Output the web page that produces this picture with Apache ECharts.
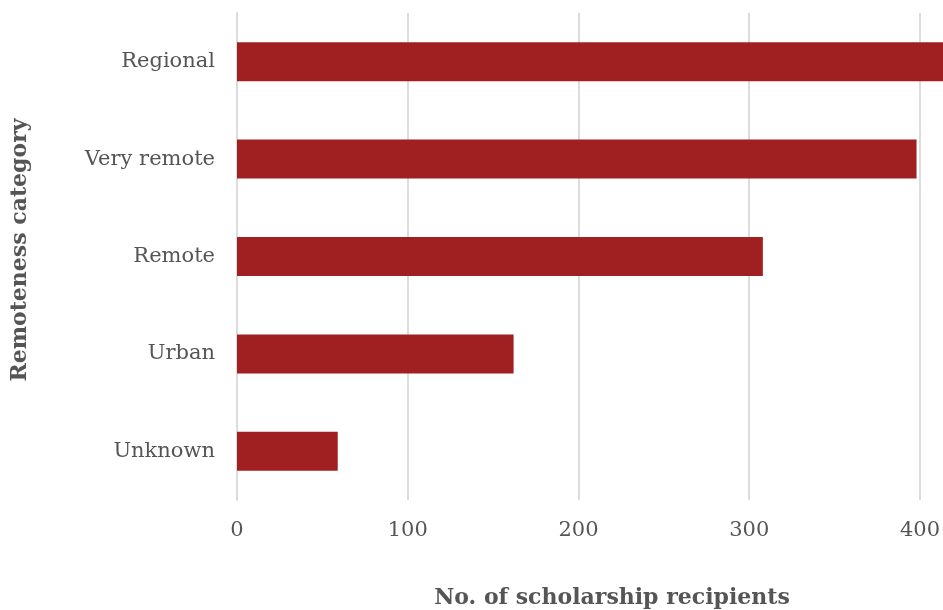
<!DOCTYPE html>
<html><head><meta charset="utf-8">
<script src="https://cdn.jsdelivr.net/npm/echarts@6/dist/echarts.min.js"></script>
<style>html,body{margin:0;padding:0;background:#fff}#c{width:943px;height:610px}</style>
</head><body><div id="c"></div>
<script>
var categories = ["Unknown", "Urban", "Remote", "Very remote", "Regional"];
var values = [59, 162, 308, 398, 430];
var xTicks = [0, 100, 200, 300, 400];
var FONT = "DejaVu Serif";
var chart = echarts.init(document.getElementById('c'));
chart.setOption({
  animation: false,
  grid: {left: 237, top: 13, right: 23, height: 487, containLabel: false},
  xAxis: {
    type: 'value', min: xTicks[0], max: xTicks[xTicks.length-1], interval: 100,
    axisLine: {show: false}, axisTick: {show: false},
    splitLine: {lineStyle: {color: '#dcdcdc', width: 2}},
    axisLabel: {color: '#555', fontFamily: FONT, fontSize: 21, margin: 20}
  },
  yAxis: {
    type: 'category', data: categories,
    axisLine: {show: true, lineStyle: {color: '#dcdcdc', width: 2}},
    axisTick: {show: false},
    axisLabel: {color: '#555', fontFamily: FONT, fontSize: 21, margin: 22}
  },
  series: [{
    type: 'bar', data: values, barWidth: '40%', clip: false,
    itemStyle: {color: '#a02022'}
  }],
  graphic: [
    {type: 'text', style: {text: 'No. of scholarship recipients', font: 'bold 22px "DejaVu Serif"', fill: '#555', align: 'center', verticalAlign: 'middle'}, x: 612, y: 598},
    {type: 'text', style: {text: 'Remoteness category', font: 'bold 22px "DejaVu Serif"', fill: '#555', align: 'center', verticalAlign: 'middle'}, x: 20, y: 250, rotation: Math.PI/2}
  ]
});
</script></body></html>
